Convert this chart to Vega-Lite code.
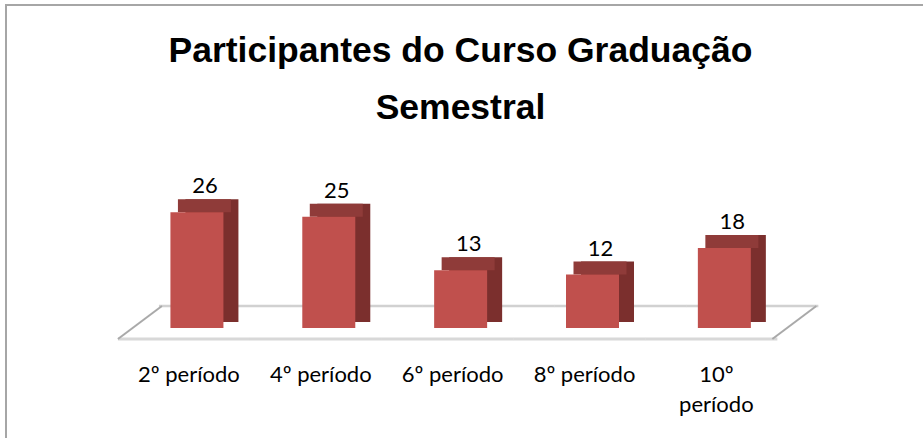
{
  "$schema": "https://vega.github.io/schema/vega-lite/v6.json",
  "width": 923,
  "height": 438,
  "autosize": "none",
  "padding": {"left": 6, "top": 5, "right": 0, "bottom": 0},
  "background": "white",
  "config": {
    "view": {"stroke": "#a6a6a6", "strokeWidth": 2},
    "font": "Lato"
  },
  "title": {
    "text": ["Participantes do Curso Graduação", "Semestral"],
    "font": "Liberation Sans",
    "fontSize": 35.5,
    "fontWeight": "bold",
    "color": "#000000",
    "anchor": "middle",
    "frame": "group",
    "baseline": "top",
    "lineHeight": 57,
    "offset": -121,
    "dx": -7
  },
  "data": {
    "values": [
      {"periodo": "2º período", "participantes": 26},
      {"periodo": "4º período", "participantes": 25},
      {"periodo": "6º período", "participantes": 13},
      {"periodo": "8º período", "participantes": 12},
      {"periodo": "10º período", "participantes": 18}
    ]
  },
  "layer": [
    {
      "mark": {"type": "tick", "color": "#bdbdbd", "thickness": 2.5, "size": 132, "xOffset": 28, "yOffset": -22},
      "encoding": {
        "x": {
          "field": "periodo",
          "type": "nominal",
          "sort": ["2º período", "4º período", "6º período", "8º período", "10º período"],
          "scale": {"paddingInner": 0, "paddingOuter": 1, "align": 0.474},
          "axis": {
            "title": null,
            "orient": "bottom",
            "offset": -103,
            "domain": false,
            "ticks": false,
            "labelAngle": 0,
            "labelFont": "Lato",
            "labelFontSize": 22,
            "labelColor": "#000000",
            "labelPadding": 24,
            "labelLineHeight": 30,
            "labelOffset": -8,
            "labelLimit": 200,
            "labelExpr": "datum.label == '10º período' ? ['10º', 'período'] : datum.label"
          }
        },
        "y": {"datum": 0, "type": "quantitative", "scale": {"domain": [-25.84, 72.58], "nice": false, "zero": false}, "axis": null}
      }
    },
    {
      "mark": {"type": "tick", "color": "#c8c8c8", "thickness": 3, "size": 132, "xOffset": -13, "yOffset": 11},
      "encoding": {
        "x": {"field": "periodo", "type": "nominal", "sort": ["2º período", "4º período", "6º período", "8º período", "10º período"]},
        "y": {"datum": 0, "type": "quantitative"}
      }
    },
    {
      "transform": [{"filter": "datum.periodo == '2º período'"}],
      "mark": {"type": "rule", "color": "#a9a9a9", "strokeWidth": 2, "xOffset": -79, "x2Offset": -35, "yOffset": 11, "y2Offset": -22},
      "encoding": {
        "x": {"field": "periodo", "type": "nominal", "sort": ["2º período", "4º período", "6º período", "8º período", "10º período"]},
        "x2": {"field": "periodo"},
        "y": {"datum": 0, "type": "quantitative"},
        "y2": {"datum": 0}
      }
    },
    {
      "transform": [{"filter": "datum.periodo == '10º período'"}],
      "mark": {"type": "rule", "color": "#a9a9a9", "strokeWidth": 2, "xOffset": 48, "x2Offset": 92, "yOffset": 11, "y2Offset": -22},
      "encoding": {
        "x": {"field": "periodo", "type": "nominal", "sort": ["2º período", "4º período", "6º período", "8º período", "10º período"]},
        "x2": {"field": "periodo"},
        "y": {"datum": 0, "type": "quantitative"},
        "y2": {"datum": 0}
      }
    },
    {
      "mark": {"type": "bar", "color": "#7b2f2d", "width": 53, "xOffset": 15, "yOffset": -13, "y2Offset": -6},
      "encoding": {
        "x": {"field": "periodo", "type": "nominal", "sort": ["2º período", "4º período", "6º período", "8º período", "10º período"]},
        "y": {"field": "participantes", "type": "quantitative"},
        "y2": {"datum": 0}
      }
    },
    {
      "mark": {"type": "bar", "color": "#8f3b39", "width": 53, "xOffset": 7.5, "yOffset": -13, "y2Offset": 0},
      "encoding": {
        "x": {"field": "periodo", "type": "nominal", "sort": ["2º período", "4º período", "6º período", "8º período", "10º período"]},
        "y": {"field": "participantes", "type": "quantitative"},
        "y2": {"field": "participantes"}
      }
    },
    {
      "mark": {"type": "bar", "color": "#c0504d", "width": 53},
      "encoding": {
        "x": {"field": "periodo", "type": "nominal", "sort": ["2º período", "4º período", "6º período", "8º período", "10º período"]},
        "y": {"field": "participantes", "type": "quantitative"},
        "y2": {"datum": 0}
      }
    },
    {
      "mark": {"type": "text", "font": "Lato", "fontSize": 22, "color": "#000000", "baseline": "middle", "xOffset": 8, "yOffset": -26},
      "encoding": {
        "x": {"field": "periodo", "type": "nominal", "sort": ["2º período", "4º período", "6º período", "8º período", "10º período"]},
        "y": {"field": "participantes", "type": "quantitative"},
        "text": {"field": "participantes", "type": "quantitative"}
      }
    }
  ]
}
